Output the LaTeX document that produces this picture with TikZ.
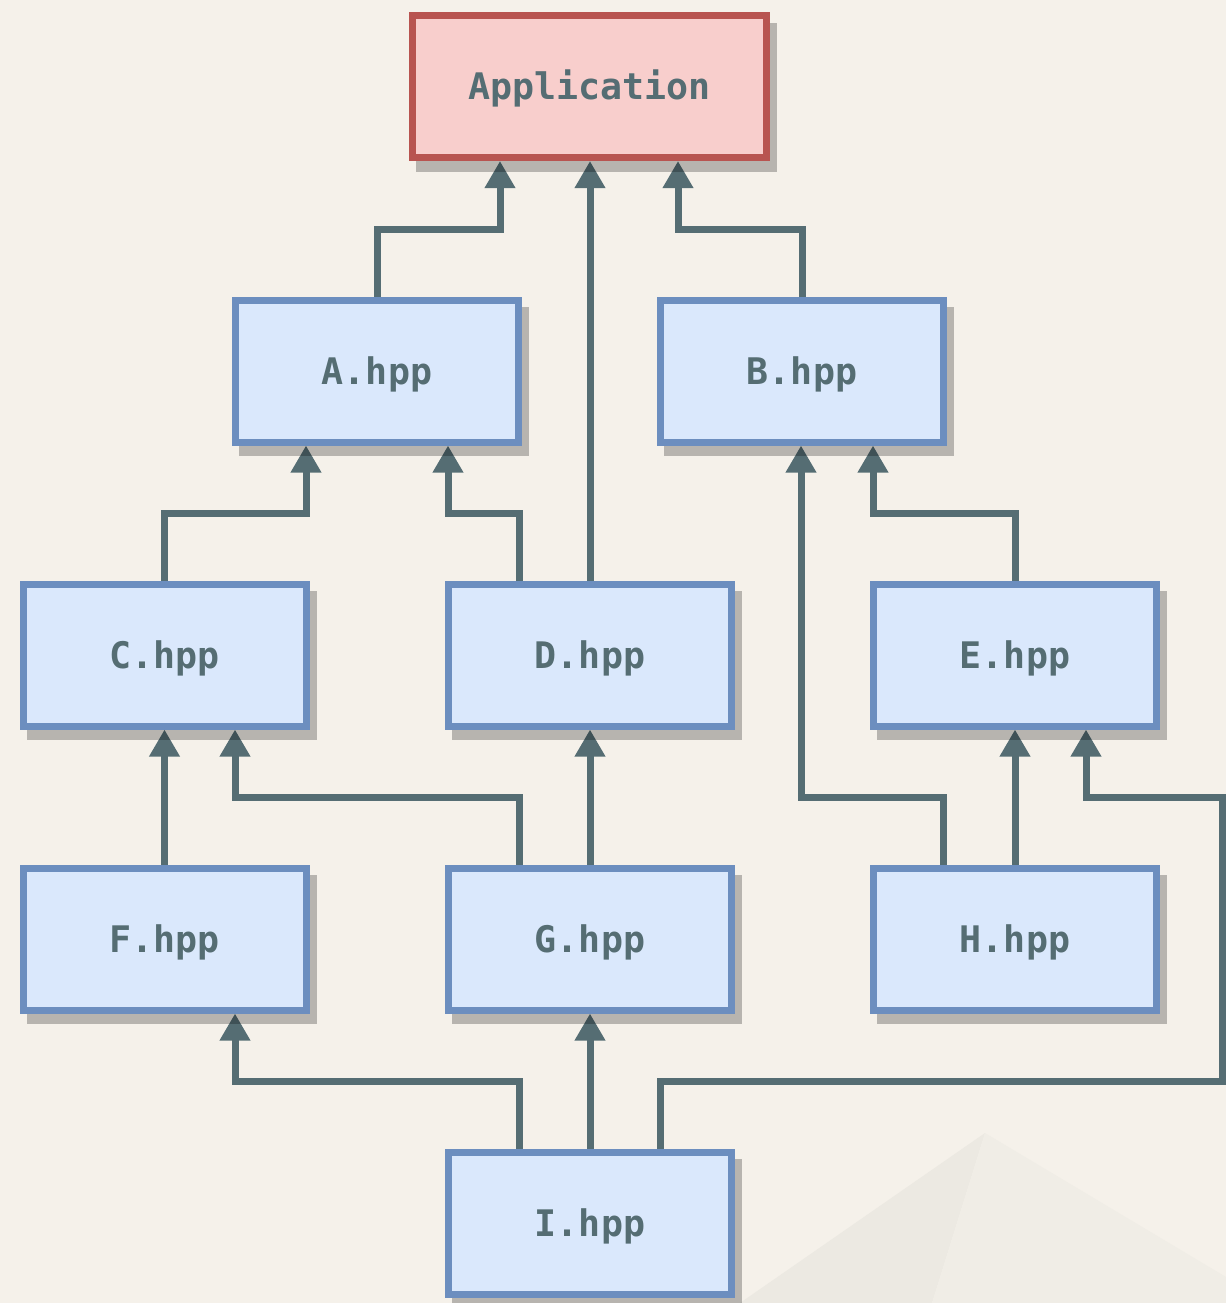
\documentclass[tikz,border=0pt]{standalone}
\usepackage{fontspec}
\newfontfamily\labelfont{DejaVu Sans Mono}
\usetikzlibrary{arrows.meta}

\definecolor{bgcream}{HTML}{F5F1EA}
\definecolor{facetL}{HTML}{ECE9E2}
\definecolor{facetR}{HTML}{F0EDE6}
\definecolor{filefill}{HTML}{DAE8FC}
\definecolor{fileline}{HTML}{6C8EBF}
\definecolor{appfill}{HTML}{F8CECC}
\definecolor{appline}{HTML}{B85450}
\definecolor{slate}{HTML}{556D73}

\pgfdeclarelayer{deco}
\pgfdeclarelayer{edges}
\pgfdeclarelayer{shadows}
\pgfsetlayers{deco,edges,shadows,main}

\tikzset{
  filebox/.style={draw=fileline, fill=filefill, line width=3.5pt,
    minimum width=141.5pt, minimum height=71pt, inner sep=0pt,
    text height=13.3pt, text depth=0pt,
    text=slate, font=\labelfont\bfseries\fontsize{18.3pt}{20pt}\selectfont},
  appbox/.style={filebox, draw=appline, fill=appfill, minimum width=177pt},
  conn/.style={draw=slate, line width=3.5pt,
    -{Triangle[width=14.5pt,length=13.5pt]}},
  boxshadow/.style={fill=black, opacity=0.25}
}

\begin{document}
\begin{tikzpicture}[x=0.5pt,y=-0.5pt]
\useasboundingbox (0,0) rectangle (1226,1303);

% backdrop with faint facets in the lower right
\begin{pgfonlayer}{deco}
  \fill[bgcream] (0,0) rectangle (1226,1303);
  \fill[facetL] (985,1133) -- (740,1303) -- (932,1303) -- cycle;
  \fill[facetR] (985,1133) -- (932,1303) -- (1226,1303) -- (1226,1277) -- cycle;
\end{pgfonlayer}

% boxes
\node[appbox]  (app) at (589.5,86.5) {Application};
\node[filebox] (a) at (377,371)   {A.hpp};
\node[filebox] (b) at (802,371)   {B.hpp};
\node[filebox] (c) at (164.5,655) {C.hpp};
\node[filebox] (d) at (590,655)   {D.hpp};
\node[filebox] (e) at (1015,655)  {E.hpp};
\node[filebox] (f) at (164.5,939) {F.hpp};
\node[filebox] (g) at (590,939)   {G.hpp};
\node[filebox] (h) at (1015,939)  {H.hpp};
\node[filebox] (i) at (590,1223)  {I.hpp};

% hard drop shadows
\begin{pgfonlayer}{shadows}
  \foreach \n in {app,a,b,c,d,e,f,g,h,i}
    \fill[boxshadow] ([shift={(7,10.5)}]\n.south west) rectangle ([shift={(7,10.5)}]\n.north east);
\end{pgfonlayer}

% include edges
\begin{pgfonlayer}{edges}
  \draw[conn] (a.north) |- (500,229) coordinate (k) -- (k |- app.south);
  \draw[conn] (d.north) -- (d.north |- app.south);
  \draw[conn] (b.north) |- (678,229) coordinate (k) -- (k |- app.south);

  \draw[conn] (c.north) |- (306,513) coordinate (k) -- (k |- a.south);
  \draw[conn] ([xshift=-35.5pt]d.north) |- (448,513) coordinate (k) -- (k |- a.south);
  \draw[conn] (e.north) |- (873,513) coordinate (k) -- (k |- b.south);
  \draw[conn] ([xshift=-36pt]h.north) |- (801,797) coordinate (k) -- (k |- b.south);

  \draw[conn] (f.north) -- (c.south);
  \draw[conn] ([xshift=-35.5pt]g.north) |- (235,797) coordinate (k) -- (k |- c.south);
  \draw[conn] (g.north) -- (d.south);
  \draw[conn] (h.north) -- (e.south);

  \draw[conn] ([xshift=35pt]i.north) |- (1222,1081) |- (1086,797) coordinate (k) -- (k |- e.south);
  \draw[conn] ([xshift=-35.5pt]i.north) |- (235,1081) coordinate (k) -- (k |- f.south);
  \draw[conn] (i.north) -- (g.south);
\end{pgfonlayer}
\end{tikzpicture}
\end{document}
